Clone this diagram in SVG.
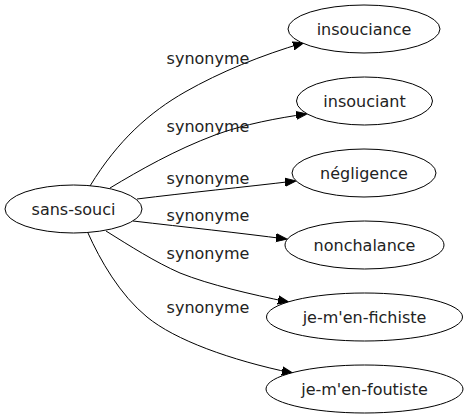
<svg xmlns="http://www.w3.org/2000/svg" width="467" height="419" viewBox="0 0 467 419">
<style>
.n ellipse{fill:#fff;stroke:#000;stroke-width:1}
.n text{font-family:"DejaVu Sans",sans-serif;font-size:16px;text-anchor:middle;fill:#222}
.e path{fill:none;stroke:#000;stroke-width:1;marker-end:url(#ah)}
.e text{font-family:"DejaVu Sans",sans-serif;font-size:16px;text-anchor:middle;fill:#222}
</style>
<defs>
<marker id="ah" markerUnits="userSpaceOnUse" markerWidth="12" markerHeight="10" refX="10" refY="0" viewBox="0 -5 12 10" orient="auto">
<path d="M0,-4 L11,0 L0,4 z" fill="#000" stroke="#000" stroke-width="1"/>
</marker>
</defs>
<g id="edges" class="e">
<path d="M90,186 C118,140 150,112 185,92 C220,72 262,55 303,43"/>
<text x="208" y="64">synonyme</text>
<path d="M110,188 C140,170 175,150 215,135 C245,124 278,118 306,114"/>
<text x="208" y="132">synonyme</text>
<path d="M137,199 C185,193 245,187 295,181"/>
<text x="208" y="184">synonyme</text>
<path d="M133,221 C185,227 240,233 286,239"/>
<text x="208" y="221">synonyme</text>
<path d="M106,231 C130,246 155,262 180,273 C210,285 250,294 288,302"/>
<text x="208" y="259">synonyme</text>
<path d="M88,233 C100,260 120,295 147,317 C175,340 230,360 292,373"/>
<text x="208" y="313">synonyme</text>
</g>
<g id="sans-souci" class="n"><ellipse cx="73.5" cy="209" rx="68.5" ry="24"/><text x="73.5" y="215">sans-souci</text></g>
<g id="insouciance" class="n"><ellipse cx="364" cy="29" rx="76" ry="24"/><text x="364" y="35">insouciance</text></g>
<g id="insouciant" class="n"><ellipse cx="364.5" cy="101" rx="68" ry="24"/><text x="364.5" y="107">insouciant</text></g>
<g id="negligence" class="n"><ellipse cx="364" cy="173" rx="72" ry="24"/><text x="364" y="179">négligence</text></g>
<g id="nonchalance" class="n"><ellipse cx="364.5" cy="245" rx="79.5" ry="24"/><text x="364.5" y="251">nonchalance</text></g>
<g id="je-m-en-fichiste" class="n"><ellipse cx="364.5" cy="317" rx="98" ry="24"/><text x="364.5" y="323">je-m'en-fichiste</text></g>
<g id="je-m-en-foutiste" class="n"><ellipse cx="364.5" cy="389" rx="98.5" ry="24"/><text x="364.5" y="395">je-m'en-foutiste</text></g>
</svg>
